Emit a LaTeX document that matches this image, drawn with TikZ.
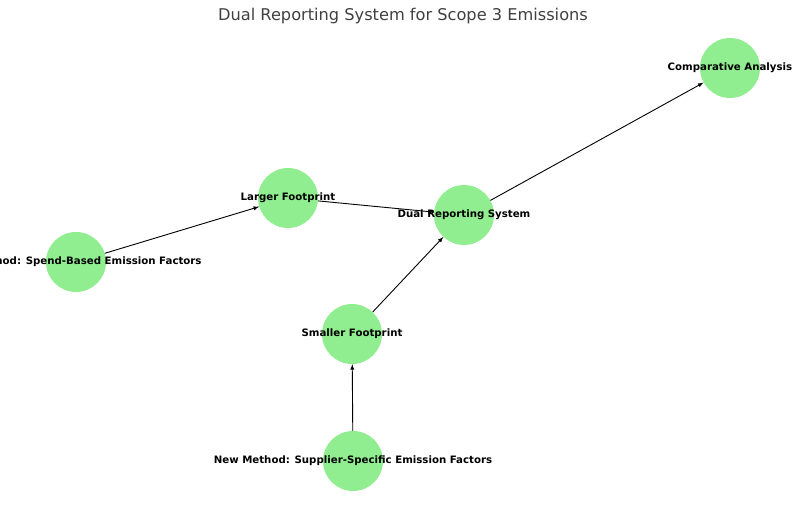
\documentclass[tikz,border=0pt]{standalone}
\usepackage{fontspec}
\setmainfont{DejaVu Sans}
\definecolor{nodegreen}{HTML}{90EE90}
\definecolor{titlegray}{HTML}{404040}
\begin{document}
\begin{tikzpicture}[x=1pt,y=-1pt,
    stage/.style={circle, fill=nodegreen, minimum size=60pt, inner sep=0pt},
    stagetext/.style={font=\bfseries\fontsize{10.2}{12}\selectfont},
    flow/.style={-latex, line width=0.9pt}]
  \useasboundingbox (0,0) rectangle (806,510);
  \clip (0,0) rectangle (806,510);
  \node [font=\fontsize{16.2}{19}\selectfont, text=titlegray] (title) at (403,16) {Dual Reporting System for Scope 3 Emissions};
  \node [stage, label={[stagetext]center:Comparative Analysis}] (comp) at (730,68) {};
  \node [stage, label={[stagetext]center:Larger Footprint}] (large) at (288,198) {};
  \node [stage, label={[stagetext]center:Dual Reporting System}] (dual) at (464,215) {};
  \node [stage, label={[stagetext]center:Old Method: Spend-Based Emission Factors}] (old) at (76,262) {};
  \node [stage, label={[stagetext]center:Smaller Footprint}] (small) at (352,334) {};
  \node [stage, label={[stagetext]center:New Method: Supplier-Specific Emission Factors}] (new) at (353,461) {};
  \draw [flow] (old) -- (large);
  \draw [flow] (large) -- (dual);
  \draw [flow] (new) -- (small);
  \draw [flow] (small) -- (dual);
  \draw [flow] (dual) -- (comp);
\end{tikzpicture}
\end{document}
